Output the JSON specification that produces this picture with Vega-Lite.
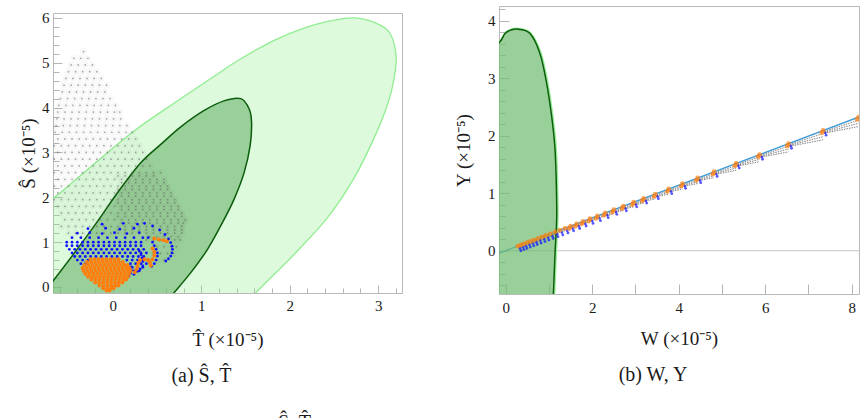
{
"$schema": "https://vega.github.io/schema/vega-lite/v6.json",
"padding": {"left": 19, "top": 1, "right": 0, "bottom": 0},
"config": {
 "view": {"stroke": "#b9b9b9", "strokeWidth": 1},
 "font": "Liberation Serif",
 "axis": {"domain": false, "grid": false, "tickColor": "#b5b5b5", "tickWidth": 1, "labelFont": "Liberation Serif", "labelFontSize": 15, "labelColor": "#1a1a1a", "titleFont": "Liberation Serif", "titleFontSize": 19, "titleFontWeight": "normal", "titleColor": "#1a1a1a", "labelFlush": false, "labelOverlap": false}
},
"datasets": {
 "lightL": [{"t":-0.81,"s":-0.98},{"t":-0.814,"s":1.70},{"t":-0.675,"s":1.97},{"t":-0.569,"s":2.14},{"t":-0.170,"s":2.81},{"t":0.241,"s":3.48},{"t":0.724,"s":4.14},{"t":1.222,"s":4.80},{"t":1.448,"s":5.09},{"t":1.825,"s":5.50},{"t":2.202,"s":5.80},{"t":2.503,"s":5.95},{"t":2.730,"s":6.00},{"t":2.956,"s":5.90},{"t":3.126,"s":5.68},{"t":3.201,"s":5.19},{"t":3.182,"s":4.67},{"t":3.107,"s":4.08},{"t":2.956,"s":3.33},{"t":2.730,"s":2.44},{"t":2.429,"s":1.55},{"t":2.051,"s":0.73},{"t":1.618,"s":-0.127},{"t":1.448,"s":-0.54},{"t":0.43,"s":-1.2}],
 "darkL": [{"t":-0.81,"s":-0.54},{"t":-0.80,"s":-0.15},{"t":-0.675,"s":0.134},{"t":-0.249,"s":1.25},{"t":0.068,"s":2.14},{"t":0.317,"s":2.77},{"t":0.543,"s":3.18},{"t":0.769,"s":3.57},{"t":1.029,"s":3.93},{"t":1.256,"s":4.15},{"t":1.448,"s":4.20},{"t":1.542,"s":3.97},{"t":1.569,"s":3.67},{"t":1.553,"s":3.15},{"t":1.485,"s":2.55},{"t":1.372,"s":1.96},{"t":1.241,"s":1.44},{"t":1.071,"s":0.84},{"t":0.882,"s":0.32},{"t":0.693,"s":-0.127},{"t":0.55,"s":-0.45},{"t":-0.14,"s":-0.76}],
 "grayL": [
{"t":-0.33,"s":5.25},
{"t":-0.44,"s":5.1},{"t":-0.36,"s":5.1},{"t":-0.28,"s":5.1},
{"t":-0.47,"s":4.95},{"t":-0.39,"s":4.95},{"t":-0.31,"s":4.95},{"t":-0.23,"s":4.95},
{"t":-0.50,"s":4.8},{"t":-0.42,"s":4.8},{"t":-0.34,"s":4.8},{"t":-0.26,"s":4.8},{"t":-0.18,"s":4.8},
{"t":-0.53,"s":4.65},{"t":-0.45,"s":4.65},{"t":-0.37,"s":4.65},{"t":-0.29,"s":4.65},{"t":-0.21,"s":4.65},{"t":-0.13,"s":4.65},
{"t":-0.55,"s":4.5},{"t":-0.47,"s":4.5},{"t":-0.39,"s":4.5},{"t":-0.31,"s":4.5},{"t":-0.23,"s":4.5},{"t":-0.15,"s":4.5},{"t":-0.07,"s":4.5},
{"t":-0.57,"s":4.35},{"t":-0.49,"s":4.35},{"t":-0.41,"s":4.35},{"t":-0.33,"s":4.35},{"t":-0.25,"s":4.35},{"t":-0.17,"s":4.35},{"t":-0.09,"s":4.35},
{"t":-0.59,"s":4.2},{"t":-0.51,"s":4.2},{"t":-0.43,"s":4.2},{"t":-0.35,"s":4.2},{"t":-0.27,"s":4.2},{"t":-0.19,"s":4.2},{"t":-0.11,"s":4.2},{"t":-0.03,"s":4.2},
{"t":-0.61,"s":4.05},{"t":-0.53,"s":4.05},{"t":-0.45,"s":4.05},{"t":-0.37,"s":4.05},{"t":-0.29,"s":4.05},{"t":-0.21,"s":4.05},{"t":-0.13,"s":4.05},{"t":-0.05,"s":4.05},{"t":0.03,"s":4.05},
{"t":-0.62,"s":3.9},{"t":-0.54,"s":3.9},{"t":-0.46,"s":3.9},{"t":-0.38,"s":3.9},{"t":-0.30,"s":3.9},{"t":-0.22,"s":3.9},{"t":-0.14,"s":3.9},{"t":-0.06,"s":3.9},{"t":0.02,"s":3.9},{"t":0.08,"s":3.9},
{"t":-0.63,"s":3.75},{"t":-0.55,"s":3.75},{"t":-0.47,"s":3.75},{"t":-0.39,"s":3.75},{"t":-0.31,"s":3.75},{"t":-0.23,"s":3.75},{"t":-0.15,"s":3.75},{"t":-0.07,"s":3.75},{"t":0.01,"s":3.75},{"t":0.09,"s":3.75},
{"t":-0.64,"s":3.6},{"t":-0.56,"s":3.6},{"t":-0.48,"s":3.6},{"t":-0.40,"s":3.6},{"t":-0.32,"s":3.6},{"t":-0.24,"s":3.6},{"t":-0.16,"s":3.6},{"t":-0.08,"s":3.6},{"t":0.00,"s":3.6},{"t":0.08,"s":3.6},{"t":0.16,"s":3.6},
{"t":-0.65,"s":3.45},{"t":-0.57,"s":3.45},{"t":-0.49,"s":3.45},{"t":-0.41,"s":3.45},{"t":-0.33,"s":3.45},{"t":-0.25,"s":3.45},{"t":-0.17,"s":3.45},{"t":-0.09,"s":3.45},{"t":-0.01,"s":3.45},{"t":0.07,"s":3.45},{"t":0.15,"s":3.45},{"t":0.22,"s":3.45},
{"t":-0.62,"s":3.3},{"t":-0.54,"s":3.3},{"t":-0.46,"s":3.3},{"t":-0.38,"s":3.3},{"t":-0.30,"s":3.3},{"t":-0.22,"s":3.3},{"t":-0.14,"s":3.3},{"t":-0.06,"s":3.3},{"t":0.02,"s":3.3},{"t":0.10,"s":3.3},{"t":0.18,"s":3.3},{"t":0.26,"s":3.3},
{"t":-0.66,"s":3.15},{"t":-0.58,"s":3.15},{"t":-0.50,"s":3.15},{"t":-0.42,"s":3.15},{"t":-0.34,"s":3.15},{"t":-0.26,"s":3.15},{"t":-0.18,"s":3.15},{"t":-0.10,"s":3.15},{"t":-0.02,"s":3.15},{"t":0.06,"s":3.15},{"t":0.14,"s":3.15},{"t":0.22,"s":3.15},{"t":0.30,"s":3.15},
{"t":-0.62,"s":3.0},{"t":-0.54,"s":3.0},{"t":-0.46,"s":3.0},{"t":-0.38,"s":3.0},{"t":-0.30,"s":3.0},{"t":-0.22,"s":3.0},{"t":-0.14,"s":3.0},{"t":-0.06,"s":3.0},{"t":0.02,"s":3.0},{"t":0.10,"s":3.0},{"t":0.18,"s":3.0},{"t":0.26,"s":3.0},{"t":0.34,"s":3.0},
{"t":-0.66,"s":2.85},{"t":-0.58,"s":2.85},{"t":-0.50,"s":2.85},{"t":-0.42,"s":2.85},{"t":-0.34,"s":2.85},{"t":-0.26,"s":2.85},{"t":-0.18,"s":2.85},{"t":-0.10,"s":2.85},{"t":-0.02,"s":2.85},{"t":0.06,"s":2.85},{"t":0.14,"s":2.85},{"t":0.22,"s":2.85},{"t":0.30,"s":2.85},{"t":0.38,"s":2.85},
{"t":-0.62,"s":2.7},{"t":-0.54,"s":2.7},{"t":-0.46,"s":2.7},{"t":-0.38,"s":2.7},{"t":-0.30,"s":2.7},{"t":-0.22,"s":2.7},{"t":-0.14,"s":2.7},{"t":-0.06,"s":2.7},{"t":0.02,"s":2.7},{"t":0.10,"s":2.7},{"t":0.18,"s":2.7},{"t":0.26,"s":2.7},{"t":0.34,"s":2.7},{"t":0.42,"s":2.7},
{"t":-0.66,"s":2.55},{"t":-0.58,"s":2.55},{"t":-0.50,"s":2.55},{"t":-0.42,"s":2.55},{"t":-0.34,"s":2.55},{"t":-0.26,"s":2.55},{"t":-0.18,"s":2.55},{"t":-0.10,"s":2.55},{"t":-0.02,"s":2.55},{"t":0.06,"s":2.55},{"t":0.14,"s":2.55},{"t":0.22,"s":2.55},{"t":0.30,"s":2.55},{"t":0.38,"s":2.55},{"t":0.46,"s":2.55},{"t":0.54,"s":2.55},
{"t":-0.62,"s":2.4},{"t":-0.54,"s":2.4},{"t":-0.46,"s":2.4},{"t":-0.38,"s":2.4},{"t":-0.30,"s":2.4},{"t":-0.22,"s":2.4},{"t":-0.14,"s":2.4},{"t":-0.06,"s":2.4},{"t":0.02,"s":2.4},{"t":0.10,"s":2.4},{"t":0.18,"s":2.4},{"t":0.26,"s":2.4},{"t":0.34,"s":2.4},{"t":0.42,"s":2.4},{"t":0.50,"s":2.4},{"t":0.58,"s":2.4},
{"t":-0.66,"s":2.25},{"t":-0.58,"s":2.25},{"t":-0.50,"s":2.25},{"t":-0.42,"s":2.25},{"t":-0.34,"s":2.25},{"t":-0.26,"s":2.25},{"t":-0.18,"s":2.25},{"t":-0.10,"s":2.25},{"t":-0.02,"s":2.25},{"t":0.06,"s":2.25},{"t":0.14,"s":2.25},{"t":0.22,"s":2.25},{"t":0.30,"s":2.25},{"t":0.38,"s":2.25},{"t":0.46,"s":2.25},{"t":0.54,"s":2.25},{"t":0.62,"s":2.25},
{"t":-0.62,"s":2.1},{"t":-0.54,"s":2.1},{"t":-0.46,"s":2.1},{"t":-0.38,"s":2.1},{"t":-0.30,"s":2.1},{"t":-0.22,"s":2.1},{"t":-0.14,"s":2.1},{"t":-0.06,"s":2.1},{"t":0.02,"s":2.1},{"t":0.10,"s":2.1},{"t":0.18,"s":2.1},{"t":0.26,"s":2.1},{"t":0.34,"s":2.1},{"t":0.42,"s":2.1},{"t":0.50,"s":2.1},{"t":0.58,"s":2.1},{"t":0.66,"s":2.1},
{"t":-0.66,"s":1.95},{"t":-0.58,"s":1.95},{"t":-0.50,"s":1.95},{"t":-0.42,"s":1.95},{"t":-0.34,"s":1.95},{"t":-0.26,"s":1.95},{"t":-0.18,"s":1.95},{"t":-0.10,"s":1.95},{"t":-0.02,"s":1.95},{"t":0.06,"s":1.95},{"t":0.14,"s":1.95},{"t":0.22,"s":1.95},{"t":0.30,"s":1.95},{"t":0.38,"s":1.95},{"t":0.46,"s":1.95},{"t":0.54,"s":1.95},{"t":0.62,"s":1.95},{"t":0.70,"s":1.95},
{"t":-0.62,"s":1.8},{"t":-0.54,"s":1.8},{"t":-0.46,"s":1.8},{"t":-0.38,"s":1.8},{"t":-0.30,"s":1.8},{"t":-0.22,"s":1.8},{"t":-0.14,"s":1.8},{"t":-0.06,"s":1.8},{"t":0.02,"s":1.8},{"t":0.10,"s":1.8},{"t":0.18,"s":1.8},{"t":0.26,"s":1.8},{"t":0.34,"s":1.8},{"t":0.42,"s":1.8},{"t":0.50,"s":1.8},{"t":0.58,"s":1.8},{"t":0.66,"s":1.8},{"t":0.74,"s":1.8},
{"t":-0.58,"s":1.65},{"t":-0.50,"s":1.65},{"t":-0.42,"s":1.65},{"t":-0.34,"s":1.65},{"t":-0.26,"s":1.65},{"t":-0.18,"s":1.65},{"t":-0.10,"s":1.65},{"t":-0.02,"s":1.65},{"t":0.06,"s":1.65},{"t":0.14,"s":1.65},{"t":0.22,"s":1.65},{"t":0.30,"s":1.65},{"t":0.38,"s":1.65},{"t":0.46,"s":1.65},{"t":0.54,"s":1.65},{"t":0.62,"s":1.65},{"t":0.70,"s":1.65},{"t":0.78,"s":1.65},
{"t":-0.54,"s":1.5},{"t":-0.46,"s":1.5},{"t":-0.38,"s":1.5},{"t":-0.30,"s":1.5},{"t":-0.22,"s":1.5},{"t":-0.14,"s":1.5},{"t":-0.06,"s":1.5},{"t":0.02,"s":1.5},{"t":0.10,"s":1.5},{"t":0.18,"s":1.5},{"t":0.26,"s":1.5},{"t":0.34,"s":1.5},{"t":0.42,"s":1.5},{"t":0.50,"s":1.5},{"t":0.58,"s":1.5},{"t":0.66,"s":1.5},{"t":0.74,"s":1.5},{"t":0.82,"s":1.5},
{"t":-0.58,"s":1.35},{"t":-0.50,"s":1.35},{"t":-0.42,"s":1.35},{"t":-0.34,"s":1.35},{"t":-0.26,"s":1.35},{"t":-0.18,"s":1.35},{"t":-0.10,"s":1.35},{"t":-0.02,"s":1.35},{"t":0.06,"s":1.35},{"t":0.14,"s":1.35},{"t":0.22,"s":1.35},{"t":0.30,"s":1.35},{"t":0.38,"s":1.35},{"t":0.46,"s":1.35},{"t":0.54,"s":1.35},{"t":0.62,"s":1.35},{"t":0.70,"s":1.35},{"t":0.78,"s":1.35},
{"t":-0.50,"s":1.2},{"t":-0.42,"s":1.2},{"t":-0.34,"s":1.2},{"t":-0.26,"s":1.2},{"t":-0.18,"s":1.2},{"t":-0.10,"s":1.2},{"t":-0.02,"s":1.2},{"t":0.06,"s":1.2},{"t":0.14,"s":1.2},{"t":0.22,"s":1.2},{"t":0.30,"s":1.2},{"t":0.38,"s":1.2},{"t":0.46,"s":1.2},{"t":0.54,"s":1.2},{"t":0.62,"s":1.2},{"t":0.70,"s":1.2},{"t":0.78,"s":1.2},
{"t":0.38,"s":1.05},{"t":0.46,"s":1.05},{"t":0.54,"s":1.05},{"t":0.62,"s":1.05},{"t":0.70,"s":1.05},{"t":0.76,"s":1.05},
{"t":0.50,"s":0.9},{"t":0.58,"s":0.9},{"t":0.66,"s":0.9},{"t":0.72,"s":0.9},
{"t":0.46,"s":0.75},{"t":0.54,"s":0.75},{"t":0.62,"s":0.75},{"t":0.68,"s":0.75},
{"t":0.50,"s":0.6},{"t":0.58,"s":0.6},
{"t":0.06,"s":2.475},{"t":0.14,"s":2.475},{"t":0.22,"s":2.475},{"t":0.30,"s":2.475},{"t":0.38,"s":2.475},{"t":0.46,"s":2.475},
{"t":0.10,"s":2.325},{"t":0.18,"s":2.325},{"t":0.26,"s":2.325},{"t":0.34,"s":2.325},{"t":0.42,"s":2.325},{"t":0.50,"s":2.325},{"t":0.58,"s":2.325},
{"t":0.06,"s":2.175},{"t":0.14,"s":2.175},{"t":0.22,"s":2.175},{"t":0.30,"s":2.175},{"t":0.38,"s":2.175},{"t":0.46,"s":2.175},{"t":0.54,"s":2.175},{"t":0.62,"s":2.175},
{"t":0.10,"s":2.025},{"t":0.18,"s":2.025},{"t":0.26,"s":2.025},{"t":0.34,"s":2.025},{"t":0.42,"s":2.025},{"t":0.50,"s":2.025},{"t":0.58,"s":2.025},{"t":0.66,"s":2.025},
{"t":0.06,"s":1.875},{"t":0.14,"s":1.875},{"t":0.22,"s":1.875},{"t":0.30,"s":1.875},{"t":0.38,"s":1.875},{"t":0.46,"s":1.875},{"t":0.54,"s":1.875},{"t":0.62,"s":1.875},{"t":0.70,"s":1.875},
{"t":0.10,"s":1.725},{"t":0.18,"s":1.725},{"t":0.26,"s":1.725},{"t":0.34,"s":1.725},{"t":0.42,"s":1.725},{"t":0.50,"s":1.725},{"t":0.58,"s":1.725},{"t":0.66,"s":1.725},{"t":0.74,"s":1.725},
{"t":0.06,"s":1.575},{"t":0.14,"s":1.575},{"t":0.22,"s":1.575},{"t":0.30,"s":1.575},{"t":0.38,"s":1.575},{"t":0.46,"s":1.575},{"t":0.54,"s":1.575},{"t":0.62,"s":1.575},{"t":0.70,"s":1.575},{"t":0.78,"s":1.575},
{"t":0.10,"s":1.425},{"t":0.18,"s":1.425},{"t":0.26,"s":1.425},{"t":0.34,"s":1.425},{"t":0.42,"s":1.425},{"t":0.50,"s":1.425},{"t":0.58,"s":1.425},{"t":0.66,"s":1.425},{"t":0.74,"s":1.425},{"t":0.80,"s":1.425},
{"t":0.06,"s":1.275},{"t":0.14,"s":1.275},{"t":0.22,"s":1.275},{"t":0.30,"s":1.275},{"t":0.38,"s":1.275},{"t":0.46,"s":1.275},{"t":0.54,"s":1.275},{"t":0.62,"s":1.275},{"t":0.70,"s":1.275},{"t":0.78,"s":1.275},
{"t":0.42,"s":1.125},{"t":0.50,"s":1.125},{"t":0.58,"s":1.125},{"t":0.66,"s":1.125},{"t":0.74,"s":1.125}
 ],
 "blueL": [
{"t":-0.12,"s":1.40},{"t":0.12,"s":1.42},{"t":0.28,"s":1.40},
{"t":-0.28,"s":1.30},{"t":-0.08,"s":1.31},{"t":0.08,"s":1.29},{"t":0.24,"s":1.31},
{"t":-0.40,"s":1.20},{"t":-0.26,"s":1.21},{"t":-0.12,"s":1.19},{"t":0.02,"s":1.21},{"t":0.16,"s":1.19},{"t":0.30,"s":1.21},
{"t":-0.46,"s":1.10},{"t":-0.36,"s":1.10},{"t":-0.26,"s":1.10},{"t":-0.16,"s":1.10},{"t":-0.06,"s":1.10},{"t":0.04,"s":1.10},{"t":0.14,"s":1.10},{"t":0.24,"s":1.10},{"t":0.34,"s":1.10},
{"t":-0.52,"s":1.00},{"t":-0.46,"s":1.00},{"t":-0.40,"s":1.00},{"t":-0.34,"s":1.00},{"t":-0.28,"s":1.00},{"t":-0.22,"s":1.00},{"t":-0.16,"s":1.00},{"t":-0.10,"s":1.00},{"t":-0.04,"s":1.00},{"t":0.02,"s":1.00},{"t":0.08,"s":1.00},{"t":0.14,"s":1.00},{"t":0.20,"s":1.00},{"t":0.26,"s":1.00},{"t":0.32,"s":1.00},
{"t":-0.52,"s":0.92},{"t":-0.46,"s":0.92},{"t":-0.40,"s":0.92},{"t":-0.34,"s":0.92},{"t":-0.28,"s":0.92},{"t":-0.22,"s":0.92},{"t":-0.16,"s":0.92},{"t":-0.10,"s":0.92},{"t":-0.04,"s":0.92},{"t":0.02,"s":0.92},{"t":0.08,"s":0.92},{"t":0.14,"s":0.92},{"t":0.20,"s":0.92},{"t":0.26,"s":0.92},{"t":0.32,"s":0.92},
{"t":-0.49,"s":0.84},{"t":-0.43,"s":0.84},{"t":-0.37,"s":0.84},{"t":-0.31,"s":0.84},{"t":-0.25,"s":0.84},{"t":-0.19,"s":0.84},{"t":-0.13,"s":0.84},{"t":-0.07,"s":0.84},{"t":-0.01,"s":0.84},{"t":0.05,"s":0.84},{"t":0.11,"s":0.84},{"t":0.17,"s":0.84},{"t":0.23,"s":0.84},{"t":0.29,"s":0.84},{"t":0.35,"s":0.84},
{"t":-0.46,"s":0.76},{"t":-0.40,"s":0.76},{"t":-0.34,"s":0.76},{"t":-0.28,"s":0.76},{"t":-0.22,"s":0.76},{"t":-0.16,"s":0.76},{"t":-0.10,"s":0.76},{"t":-0.04,"s":0.76},{"t":0.02,"s":0.76},{"t":0.08,"s":0.76},{"t":0.14,"s":0.76},{"t":0.20,"s":0.76},{"t":0.26,"s":0.76},{"t":0.32,"s":0.76},{"t":0.38,"s":0.76},
{"t":-0.43,"s":0.68},{"t":-0.37,"s":0.68},{"t":-0.31,"s":0.68},{"t":-0.25,"s":0.68},{"t":-0.19,"s":0.68},{"t":-0.13,"s":0.68},{"t":-0.07,"s":0.68},{"t":-0.01,"s":0.68},{"t":0.05,"s":0.68},{"t":0.11,"s":0.68},{"t":0.17,"s":0.68},{"t":0.23,"s":0.68},{"t":0.29,"s":0.68},{"t":0.35,"s":0.68},
{"t":-0.40,"s":0.60},{"t":-0.34,"s":0.60},{"t":-0.28,"s":0.60},{"t":0.16,"s":0.60},{"t":0.22,"s":0.60},{"t":0.28,"s":0.60},{"t":0.34,"s":0.60},{"t":0.40,"s":0.60},
{"t":-0.36,"s":0.52},{"t":-0.31,"s":0.52},{"t":0.20,"s":0.52},{"t":0.26,"s":0.52},{"t":0.32,"s":0.52},{"t":0.38,"s":0.52},
{"t":0.22,"s":0.44},{"t":0.28,"s":0.44},{"t":0.34,"s":0.44},
{"t":0.24,"s":0.36},{"t":0.30,"s":0.36},{"t":0.24,"s":0.28},
{"t":0.36,"s":1.42},{"t":0.45,"s":1.36},{"t":0.53,"s":1.27},{"t":0.59,"s":1.17},{"t":0.63,"s":1.07},{"t":0.655,"s":0.99},{"t":0.67,"s":0.91},{"t":0.675,"s":0.84},{"t":0.67,"s":0.76},{"t":0.656,"s":0.69},{"t":0.63,"s":0.63},{"t":0.60,"s":0.58},
{"t":0.40,"s":1.10},{"t":0.45,"s":1.00},{"t":0.47,"s":0.92},{"t":0.49,"s":0.84},{"t":0.505,"s":0.76},{"t":0.505,"s":0.69},{"t":0.49,"s":0.60},{"t":0.47,"s":0.52},{"t":0.44,"s":0.46},
{"t":0.30,"s":0.80},{"t":0.32,"s":0.72},{"t":0.33,"s":0.65},{"t":0.34,"s":0.57},{"t":0.34,"s":0.47},{"t":0.31,"s":0.40},{"t":0.28,"s":0.35},
{"t":0.20,"s":0.45},{"t":0.21,"s":0.37},{"t":0.20,"s":0.30},{"t":0.18,"s":0.24}
 ],
 "orangeL": [
{"t":-0.25,"s":0.62},{"t":-0.205,"s":0.62},{"t":-0.16,"s":0.62},{"t":-0.115,"s":0.62},{"t":-0.07,"s":0.62},{"t":-0.025,"s":0.62},{"t":0.02,"s":0.62},{"t":0.065,"s":0.62},
{"t":-0.29,"s":0.555},{"t":-0.245,"s":0.555},{"t":-0.20,"s":0.555},{"t":-0.155,"s":0.555},{"t":-0.11,"s":0.555},{"t":-0.065,"s":0.555},{"t":-0.02,"s":0.555},{"t":0.025,"s":0.555},{"t":0.07,"s":0.555},{"t":0.115,"s":0.555},
{"t":-0.32,"s":0.49},{"t":-0.275,"s":0.49},{"t":-0.23,"s":0.49},{"t":-0.185,"s":0.49},{"t":-0.14,"s":0.49},{"t":-0.095,"s":0.49},{"t":-0.05,"s":0.49},{"t":-0.005,"s":0.49},{"t":0.04,"s":0.49},{"t":0.085,"s":0.49},{"t":0.13,"s":0.49},{"t":0.165,"s":0.49},
{"t":-0.34,"s":0.425},{"t":-0.295,"s":0.425},{"t":-0.25,"s":0.425},{"t":-0.205,"s":0.425},{"t":-0.16,"s":0.425},{"t":-0.115,"s":0.425},{"t":-0.07,"s":0.425},{"t":-0.025,"s":0.425},{"t":0.02,"s":0.425},{"t":0.065,"s":0.425},{"t":0.11,"s":0.425},{"t":0.155,"s":0.425},{"t":0.19,"s":0.425},
{"t":-0.33,"s":0.36},{"t":-0.285,"s":0.36},{"t":-0.24,"s":0.36},{"t":-0.195,"s":0.36},{"t":-0.15,"s":0.36},{"t":-0.105,"s":0.36},{"t":-0.06,"s":0.36},{"t":-0.015,"s":0.36},{"t":0.03,"s":0.36},{"t":0.075,"s":0.36},{"t":0.12,"s":0.36},{"t":0.165,"s":0.36},{"t":0.20,"s":0.36},
{"t":-0.31,"s":0.295},{"t":-0.265,"s":0.295},{"t":-0.22,"s":0.295},{"t":-0.175,"s":0.295},{"t":-0.13,"s":0.295},{"t":-0.085,"s":0.295},{"t":-0.04,"s":0.295},{"t":0.005,"s":0.295},{"t":0.05,"s":0.295},{"t":0.095,"s":0.295},{"t":0.14,"s":0.295},{"t":0.185,"s":0.295},
{"t":-0.28,"s":0.23},{"t":-0.235,"s":0.23},{"t":-0.19,"s":0.23},{"t":-0.145,"s":0.23},{"t":-0.10,"s":0.23},{"t":-0.055,"s":0.23},{"t":-0.01,"s":0.23},{"t":0.035,"s":0.23},{"t":0.08,"s":0.23},{"t":0.125,"s":0.23},{"t":0.17,"s":0.23},
{"t":-0.24,"s":0.165},{"t":-0.195,"s":0.165},{"t":-0.15,"s":0.165},{"t":-0.105,"s":0.165},{"t":-0.06,"s":0.165},{"t":-0.015,"s":0.165},{"t":0.03,"s":0.165},{"t":0.075,"s":0.165},{"t":0.12,"s":0.165},{"t":0.15,"s":0.165},
{"t":-0.20,"s":0.10},{"t":-0.155,"s":0.10},{"t":-0.11,"s":0.10},{"t":-0.065,"s":0.10},{"t":-0.02,"s":0.10},{"t":0.025,"s":0.10},{"t":0.07,"s":0.10},{"t":0.11,"s":0.10},
{"t":-0.15,"s":0.035},{"t":-0.105,"s":0.035},{"t":-0.06,"s":0.035},{"t":-0.015,"s":0.035},{"t":0.03,"s":0.035},{"t":0.065,"s":0.035},
{"t":-0.11,"s":-0.03},{"t":-0.065,"s":-0.03},{"t":-0.02,"s":-0.03},{"t":0.01,"s":-0.03},
{"t":-0.07,"s":-0.08},{"t":-0.035,"s":-0.08},
{"t":0.25,"s":0.33},{"t":0.27,"s":0.40},{"t":0.28,"s":0.47},{"t":0.29,"s":0.54},{"t":0.31,"s":0.60},{"t":0.36,"s":0.62},{"t":0.40,"s":0.60},{"t":0.42,"s":0.55},{"t":0.43,"s":0.48},
{"t":0.45,"s":0.86},{"t":0.47,"s":0.78},{"t":0.47,"s":0.70},{"t":0.45,"s":0.62},
{"t":0.47,"s":1.08},{"t":0.52,"s":1.06},{"t":0.57,"s":1.04},{"t":0.61,"s":1.02}
 ],
 "lightR": [{"w":-0.556,"y":3.41},{"w":-0.155,"y":3.635},{"w":-0.016,"y":3.795},{"w":0.116,"y":3.855},{"w":0.30,"y":3.87},{"w":0.58,"y":3.79},{"w":0.82,"y":3.44},{"w":0.98,"y":2.91},{"w":1.095,"y":2.33},{"w":1.165,"y":1.84},{"w":1.195,"y":1.35},{"w":1.21,"y":0.59},{"w":1.172,"y":-0.045},{"w":1.135,"y":-0.74},{"w":1.095,"y":-1.2},{"w":-0.556,"y":-1.2}],
 "darkR": [{"w":-0.556,"y":3.40},{"w":-0.155,"y":3.62},{"w":-0.016,"y":3.78},{"w":0.116,"y":3.84},{"w":0.294,"y":3.856},{"w":0.5625,"y":3.78},{"w":0.794,"y":3.43},{"w":0.949,"y":2.91},{"w":1.065,"y":2.33},{"w":1.134,"y":1.84},{"w":1.164,"y":1.35},{"w":1.18,"y":0.59},{"w":1.141,"y":-0.045},{"w":1.104,"y":-0.74},{"w":1.065,"y":-1.2},{"w":-0.556,"y":-1.2}],
 "orangeR": [{"w":0.28,"y":0.080},{"w":0.35,"y":0.100},{"w":0.42,"y":0.120},{"w":0.50,"y":0.143},{"w":0.58,"y":0.165},{"w":0.66,"y":0.188},{"w":0.75,"y":0.214},{"w":0.84,"y":0.239},{"w":0.93,"y":0.265},{"w":1.03,"y":0.294},{"w":1.14,"y":0.325},{"w":1.25,"y":0.356},{"w":1.37,"y":0.390},{"w":1.50,"y":0.428},{"w":1.64,"y":0.467},{"w":1.79,"y":0.510},{"w":1.95,"y":0.556},{"w":2.12,"y":0.604},{"w":2.30,"y":0.656},{"w":2.50,"y":0.713},{"w":2.72,"y":0.775},{"w":2.96,"y":0.844},{"w":3.19,"y":0.909},{"w":3.46,"y":0.986},{"w":3.77,"y":1.074},{"w":4.09,"y":1.166},{"w":4.44,"y":1.265},{"w":4.82,"y":1.374},{"w":5.33,"y":1.519},{"w":5.87,"y":1.673},{"w":6.54,"y":1.864},{"w":7.34,"y":2.092},{"w":8.16,"y":2.326},
{"w":1.47,"y":0.388},{"w":1.61,"y":0.427},{"w":1.76,"y":0.470},{"w":1.92,"y":0.516},{"w":2.09,"y":0.564},{"w":2.27,"y":0.616},{"w":2.47,"y":0.673},{"w":2.69,"y":0.735},{"w":2.93,"y":0.804},{"w":3.16,"y":0.869},{"w":3.43,"y":0.946},{"w":3.74,"y":1.034},{"w":4.06,"y":1.126},{"w":4.41,"y":1.225},{"w":4.79,"y":1.334},{"w":5.30,"y":1.479},{"w":5.84,"y":1.633},{"w":6.51,"y":1.824},{"w":7.31,"y":2.052},{"w":8.13,"y":2.286}],
 "blueR": [{"w":0.33,"y":0.040},{"w":0.35,"y":0.000},{"w":0.40,"y":0.060},{"w":0.42,"y":0.020},{"w":0.47,"y":0.080},{"w":0.49,"y":0.040},{"w":0.55,"y":0.103},{"w":0.57,"y":0.063},{"w":0.63,"y":0.125},{"w":0.65,"y":0.085},{"w":0.71,"y":0.148},{"w":0.73,"y":0.108},{"w":0.80,"y":0.174},{"w":0.82,"y":0.134},{"w":0.89,"y":0.199},{"w":0.91,"y":0.159},{"w":0.98,"y":0.225},{"w":1.00,"y":0.185},{"w":1.08,"y":0.254},{"w":1.10,"y":0.214},{"w":1.19,"y":0.285},{"w":1.21,"y":0.245},{"w":1.30,"y":0.316},{"w":1.32,"y":0.276},{"w":1.42,"y":0.350},{"w":1.44,"y":0.310},{"w":1.55,"y":0.388},{"w":1.57,"y":0.348},{"w":1.69,"y":0.427},{"w":1.71,"y":0.387},{"w":1.84,"y":0.470},{"w":1.86,"y":0.430},{"w":2.00,"y":0.516},{"w":2.02,"y":0.476},{"w":2.17,"y":0.564},{"w":2.19,"y":0.524},{"w":2.35,"y":0.616},{"w":2.37,"y":0.576},{"w":2.55,"y":0.673},{"w":2.57,"y":0.633},{"w":2.77,"y":0.735},{"w":2.79,"y":0.695},{"w":3.01,"y":0.804},{"w":3.03,"y":0.764},{"w":3.24,"y":0.869},{"w":3.26,"y":0.829},{"w":3.51,"y":0.946},{"w":3.53,"y":0.906},{"w":3.82,"y":1.034},{"w":3.84,"y":0.994},{"w":4.14,"y":1.126},{"w":4.16,"y":1.086},{"w":4.49,"y":1.225},{"w":4.51,"y":1.185},{"w":4.87,"y":1.334},{"w":4.89,"y":1.294},{"w":5.38,"y":1.479},{"w":5.40,"y":1.439},{"w":5.92,"y":1.633},{"w":5.94,"y":1.593},{"w":6.59,"y":1.824},{"w":6.61,"y":1.784},{"w":7.39,"y":2.052},{"w":7.41,"y":2.012}],
 "streaks": [
{"w":0.31,"y":0.065,"w2":0.35,"y2":0.082},{"w":0.31,"y":0.050,"w2":0.35,"y2":0.063},
{"w":0.38,"y":0.085,"w2":0.42,"y2":0.102},{"w":0.38,"y":0.070,"w2":0.42,"y2":0.083},
{"w":0.45,"y":0.105,"w2":0.50,"y2":0.124},{"w":0.45,"y":0.090,"w2":0.50,"y2":0.105},
{"w":0.53,"y":0.128,"w2":0.58,"y2":0.147},{"w":0.53,"y":0.113,"w2":0.58,"y2":0.128},
{"w":0.61,"y":0.150,"w2":0.66,"y2":0.169},{"w":0.61,"y":0.135,"w2":0.66,"y2":0.150},
{"w":0.69,"y":0.173,"w2":0.75,"y2":0.195},{"w":0.69,"y":0.158,"w2":0.75,"y2":0.175},
{"w":0.78,"y":0.199,"w2":0.84,"y2":0.221},{"w":0.78,"y":0.184,"w2":0.84,"y2":0.201},
{"w":0.87,"y":0.224,"w2":0.93,"y2":0.246},{"w":0.87,"y":0.209,"w2":0.93,"y2":0.226},
{"w":0.96,"y":0.250,"w2":1.03,"y2":0.274},{"w":0.96,"y":0.235,"w2":1.03,"y2":0.254},
{"w":1.06,"y":0.279,"w2":1.14,"y2":0.305},{"w":1.06,"y":0.264,"w2":1.14,"y2":0.285},
{"w":1.17,"y":0.310,"w2":1.25,"y2":0.336},{"w":1.17,"y":0.295,"w2":1.25,"y2":0.316},
{"w":1.28,"y":0.341,"w2":1.37,"y2":0.370},{"w":1.28,"y":0.326,"w2":1.37,"y2":0.349},
{"w":1.40,"y":0.375,"w2":1.50,"y2":0.406},{"w":1.40,"y":0.360,"w2":1.50,"y2":0.385},
{"w":1.53,"y":0.413,"w2":1.64,"y2":0.447},{"w":1.53,"y":0.398,"w2":1.64,"y2":0.425},
{"w":1.67,"y":0.452,"w2":1.79,"y2":0.488},{"w":1.67,"y":0.437,"w2":1.79,"y2":0.466},
{"w":1.82,"y":0.495,"w2":1.95,"y2":0.533},{"w":1.82,"y":0.480,"w2":1.95,"y2":0.510},
{"w":1.98,"y":0.541,"w2":2.12,"y2":0.582},{"w":1.98,"y":0.526,"w2":2.12,"y2":0.558},
{"w":2.15,"y":0.589,"w2":2.30,"y2":0.632},{"w":2.15,"y":0.574,"w2":2.30,"y2":0.608},
{"w":2.33,"y":0.641,"w2":2.50,"y2":0.689},{"w":2.33,"y":0.626,"w2":2.50,"y2":0.664},{"w":2.33,"y":0.611,"w2":2.50,"y2":0.639},
{"w":2.53,"y":0.698,"w2":2.72,"y2":0.751},{"w":2.53,"y":0.683,"w2":2.72,"y2":0.725},{"w":2.53,"y":0.668,"w2":2.72,"y2":0.699},
{"w":2.75,"y":0.760,"w2":2.96,"y2":0.818},{"w":2.75,"y":0.745,"w2":2.96,"y2":0.791},{"w":2.75,"y":0.730,"w2":2.96,"y2":0.764},
{"w":2.99,"y":0.829,"w2":3.19,"y2":0.884},{"w":2.99,"y":0.814,"w2":3.19,"y2":0.858},{"w":2.99,"y":0.799,"w2":3.19,"y2":0.831},
{"w":3.22,"y":0.894,"w2":3.46,"y2":0.959},{"w":3.22,"y":0.879,"w2":3.46,"y2":0.930},{"w":3.22,"y":0.864,"w2":3.46,"y2":0.902},
{"w":3.49,"y":0.971,"w2":3.77,"y2":1.045},{"w":3.49,"y":0.956,"w2":3.77,"y2":1.015},{"w":3.49,"y":0.941,"w2":3.77,"y2":0.984},
{"w":3.80,"y":1.059,"w2":4.09,"y2":1.136},{"w":3.80,"y":1.044,"w2":4.09,"y2":1.105},{"w":3.80,"y":1.029,"w2":4.09,"y2":1.074},
{"w":4.12,"y":1.151,"w2":4.44,"y2":1.235},{"w":4.12,"y":1.136,"w2":4.44,"y2":1.203},{"w":4.12,"y":1.121,"w2":4.44,"y2":1.170},
{"w":4.47,"y":1.250,"w2":4.82,"y2":1.341},{"w":4.47,"y":1.235,"w2":4.82,"y2":1.307},{"w":4.47,"y":1.220,"w2":4.82,"y2":1.273},
{"w":4.85,"y":1.359,"w2":5.33,"y2":1.481},{"w":4.85,"y":1.344,"w2":5.33,"y2":1.441},{"w":4.85,"y":1.329,"w2":5.33,"y2":1.400},
{"w":5.36,"y":1.504,"w2":5.87,"y2":1.634},{"w":5.36,"y":1.489,"w2":5.87,"y2":1.592},{"w":5.36,"y":1.474,"w2":5.87,"y2":1.550},
{"w":5.90,"y":1.658,"w2":6.54,"y2":1.819},{"w":5.90,"y":1.643,"w2":6.54,"y2":1.770},{"w":5.90,"y":1.628,"w2":6.54,"y2":1.722},
{"w":6.57,"y":1.849,"w2":7.34,"y2":2.041},{"w":6.57,"y":1.834,"w2":7.34,"y2":1.986},{"w":6.57,"y":1.819,"w2":7.34,"y2":1.931},
{"w":7.37,"y":2.077,"w2":8.16,"y2":2.274},{"w":7.37,"y":2.062,"w2":8.16,"y2":2.218},{"w":7.37,"y":2.047,"w2":8.16,"y2":2.162},
{"w":8.19,"y":2.311,"w2":8.46,"y2":2.383},{"w":8.19,"y":2.296,"w2":8.46,"y2":2.353},{"w":8.19,"y":2.281,"w2":8.46,"y2":2.323}
 ]
},
"title": {"text": "Ŝ,  T̂", "orient": "bottom", "anchor": "start", "offset": 26, "dx": 259, "fontSize": 20, "font": "Liberation Serif", "fontWeight": "normal", "color": "#1a1a1a"},
"hconcat": [
 {"vconcat": [
  {"width": 349, "height": 4, "data": {"values": [{}]}, "mark": {"type": "rect", "opacity": 0}, "view": {"stroke": null}},
  {"width": 349, "height": 280,
   "title": {"text": "(a)   Ŝ, T̂", "orient": "bottom", "anchor": "middle", "offset": 17, "dx": -26, "fontSize": 20, "font": "Liberation Serif", "fontWeight": "normal", "color": "#1a1a1a"},
   "encoding": {
    "x": {"field": "t", "type": "quantitative", "scale": {"domain": [-0.675, 3.269], "nice": false, "zero": false},
      "axis": {"title": "T̂  (×10⁻⁵)", "values": [-0.6,-0.4,-0.2,0,0.2,0.4,0.6,0.8,1,1.2,1.4,1.6,1.8,2,2.2,2.4,2.6,2.8,3,3.2],
        "labelExpr": "abs(datum.value - round(datum.value)) < 0.001 ? format(datum.value, 'd') : ''",
        "tickSize": {"condition": {"test": "abs(datum.value - round(datum.value)) < 0.001", "value": -8}, "value": -5},
        "labelPadding": 13, "titlePadding": 14}},
    "y": {"field": "s", "type": "quantitative", "scale": {"domain": [-0.134, 6.109], "nice": false, "zero": false},
      "axis": {"title": "Ŝ  (×10⁻⁵)", "values": [0,0.2,0.4,0.6,0.8,1,1.2,1.4,1.6,1.8,2,2.2,2.4,2.6,2.8,3,3.2,3.4,3.6,3.8,4,4.2,4.4,4.6,4.8,5,5.2,5.4,5.6,5.8,6],
        "labelExpr": "abs(datum.value - round(datum.value)) < 0.001 ? format(datum.value, 'd') : ''",
        "tickSize": {"condition": {"test": "abs(datum.value - round(datum.value)) < 0.001", "value": -9}, "value": -6},
        "labelPadding": 13, "titlePadding": 3}}
   },
   "layer": [
    {"data": {"name": "lightL"}, "mark": {"type": "line", "interpolate": "cardinal-closed", "fill": "#90ee90", "fillOpacity": 0.3, "stroke": "#90ee90", "strokeWidth": 1.3, "clip": true}, "encoding": {"order": {"value": null}}},
    {"data": {"name": "darkL"}, "mark": {"type": "line", "interpolate": "cardinal-closed", "fill": "#6fb46f", "fillOpacity": 0.62, "stroke": "#0b5d0b", "strokeWidth": 1.5, "clip": true}, "encoding": {"order": {"value": null}}},
    {"data": {"name": "grayL"}, "mark": {"type": "circle", "size": 45, "color": "#444444", "opacity": 0.045, "clip": true}},
    {"data": {"name": "grayL"}, "mark": {"type": "circle", "size": 3, "color": "#555555", "opacity": 0.5, "clip": true}},
    {"data": {"name": "blueL"}, "mark": {"type": "circle", "size": 8, "color": "#1010ff", "opacity": 1, "clip": true}},
    {"data": {"name": "orangeL"}, "mark": {"type": "circle", "size": 16, "color": "#ff7f0e", "opacity": 1, "clip": true}}
   ]
  }
 ], "spacing": 0},
 {"width": 360, "height": 288,
  "title": {"text": "(b)   W, Y", "orient": "bottom", "anchor": "middle", "offset": 17, "dx": -26, "fontSize": 20, "font": "Liberation Serif", "fontWeight": "normal", "color": "#1a1a1a"},
  "encoding": {
   "x": {"field": "w", "type": "quantitative", "scale": {"domain": [-0.155, 8.17], "nice": false, "zero": false},
     "axis": {"title": "W  (×10⁻⁵)", "values": [0,1,2,3,4,5,6,7,8],
       "labelExpr": "datum.value % 2 === 0 ? datum.label : ''",
       "tickSize": -10, "labelPadding": 16, "titlePadding": 14}},
   "y": {"field": "y", "type": "quantitative", "scale": {"domain": [-0.753, 4.26], "nice": false, "zero": false},
     "axis": {"title": "Y  (×10⁻⁵)", "values": [-0.6,-0.4,-0.2,0,0.2,0.4,0.6,0.8,1,1.2,1.4,1.6,1.8,2,2.2,2.4,2.6,2.8,3,3.2,3.4,3.6,3.8,4,4.2],
       "labelExpr": "abs(datum.value - round(datum.value)) < 0.001 ? format(datum.value, 'd') : ''",
       "tickSize": {"condition": {"test": "abs(datum.value - round(datum.value)) < 0.001", "value": -10}, "value": -6},
       "labelPadding": 14, "titlePadding": 14}}
  },
  "layer": [
   {"data": {"values": [{"w": -0.155, "y": 0, "w2": 8.17}]}, "mark": {"type": "rule", "color": "#c4c4c4", "strokeWidth": 1}, "encoding": {"x2": {"field": "w2"}}},
   {"data": {"values": [{"w": -0.155, "y": -0.044}, {"w": 8.17, "y": 2.328}]}, "mark": {"type": "line", "color": "#3d9ad6", "strokeWidth": 1.4, "clip": true}, "encoding": {"order": {"value": null}}},
   {"data": {"name": "lightR"}, "mark": {"type": "line", "interpolate": "cardinal-closed", "fill": "#90ee90", "fillOpacity": 0.3, "stroke": "#90ee90", "strokeWidth": 1.3, "clip": true}, "encoding": {"order": {"value": null}}},
   {"data": {"name": "darkR"}, "mark": {"type": "line", "interpolate": "cardinal-closed", "fill": "#6fb46f", "fillOpacity": 0.62, "stroke": "#0b5d0b", "strokeWidth": 1.5, "clip": true}, "encoding": {"order": {"value": null}}},
   {"data": {"name": "streaks"}, "mark": {"type": "rule", "color": "#666666", "strokeWidth": 0.9, "strokeDash": [1.5, 1], "opacity": 0.9, "clip": true}, "encoding": {"x2": {"field": "w2"}, "y2": {"field": "y2"}}},
   {"data": {"name": "blueR"}, "mark": {"type": "circle", "size": 8, "color": "#1010ff", "clip": true}},
   {"data": {"name": "orangeR"}, "mark": {"type": "circle", "size": 24, "color": "#ff7f0e", "clip": true}}
  ]
 }
],
"spacing": 51
}
